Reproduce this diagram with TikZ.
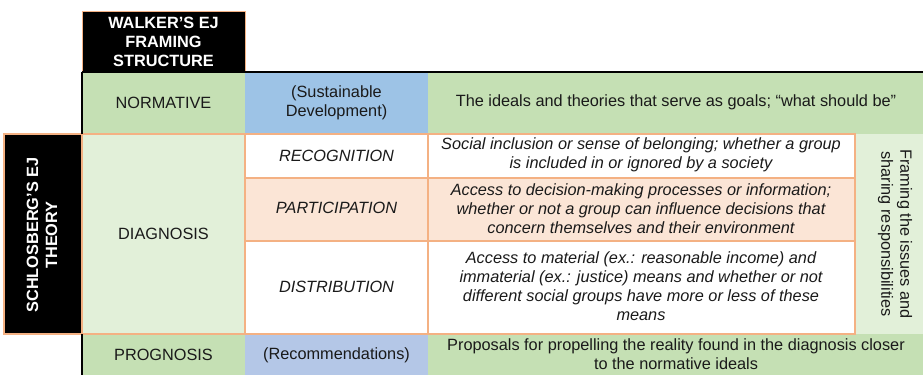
\documentclass[tikz,border=0pt]{standalone}
\usepackage{fontspec}
\setmainfont{Liberation Sans}
\definecolor{gmid}{HTML}{C5E0B4}
\definecolor{glight}{HTML}{E2F0D9}
\definecolor{bsus}{HTML}{9DC3E6}
\definecolor{brec}{HTML}{B4C7E7}
\definecolor{peach}{HTML}{FBE5D6}
\definecolor{orng}{HTML}{F4B183}
\definecolor{txt}{HTML}{1A1A1A}
\begin{document}
\begin{tikzpicture}[x=1pt,y=-1pt,
  cell/.style={anchor=north west, inner sep=0pt, outer sep=0pt, align=center,
    font=\fontsize{16.3}{19}\selectfont, text=txt},
  ocell/.style={cell, draw=orng, line width=1.5pt},
  desc/.style={align=center, inner sep=0pt, font=\fontsize{16.3}{19}\selectfont\itshape, text=txt},
  lbl/.style={align=center, inner sep=0pt, font=\fontsize{16.3}{19}\selectfont, text=txt},
  head/.style={align=center, inner sep=0pt, font=\fontsize{16.3}{19}\selectfont\bfseries, text=white}
]
\useasboundingbox (0,0) rectangle (923,375);

% Walker header
\node[cell, fill=black, draw=orng, line width=1pt, minimum width=163pt, minimum height=61pt] (walker) at (82,11) {};
\node[head] (walkert) at (163.5,42) {WALKER’S EJ\\FRAMING\\STRUCTURE};

% Normative row
\node[cell, fill=gmid, minimum width=163pt, minimum height=62pt] (norm) at (82,72) {};
\node[cell, fill=bsus, minimum width=183pt, minimum height=62pt] (sus) at (245,72) {};
\node[cell, fill=gmid, minimum width=495pt, minimum height=62pt] (normd) at (428,72) {};
\node[lbl] (normt) at (163.5,103) {NORMATIVE};
\node[lbl] (sust) at (336.5,103) {(Sustainable\\Development)};
\node[lbl] (normdt) at (676,102) {The ideals and theories that serve as goals; “what should be”};

% Prognosis row
\node[cell, fill=gmid, minimum width=163pt, minimum height=41pt] (prog) at (82,334) {};
\node[cell, fill=brec, minimum width=183pt, minimum height=41pt] (recm) at (245,334) {};
\node[cell, fill=gmid, minimum width=495pt, minimum height=41pt] (progd) at (428,334) {};
\node[lbl] (progt) at (163.5,355) {PROGNOSIS};
\node[lbl] (recmt) at (336.5,355) {(Recommendations)};
\node[lbl] (progdt) at (676,354) {Proposals for propelling the reality found in the diagnosis closer\\to the normative ideals};

% Right framing column
\node[cell, fill=glight, minimum width=68pt, minimum height=200pt] (frame) at (855,134) {};
\node[lbl, rotate=-90] (framet) at (895,234) {Framing the issues and\\sharing responsibilities};

% Schlosberg
\node[ocell, fill=black, line width=1.2pt, minimum width=78pt, minimum height=200pt] (schl) at (4,134) {};
\node[head, rotate=90] (schlt) at (42,235) {SCHLOSBERG’S EJ\\THEORY};

% Diagnosis
\node[ocell, fill=glight, minimum width=163pt, minimum height=200pt] (diag) at (82,134) {};
\node[lbl] (diagt) at (163.5,234) {DIAGNOSIS};

% Sub rows
\node[ocell, fill=white, minimum width=183pt, minimum height=44pt] (recog) at (245,134) {};
\node[ocell, fill=white, minimum width=427pt, minimum height=44pt] (recogd) at (428,134) {};
\node[ocell, fill=peach, minimum width=183pt, minimum height=63pt] (part) at (245,178) {};
\node[ocell, fill=peach, minimum width=427pt, minimum height=63pt] (partd) at (428,178) {};
\node[ocell, fill=white, minimum width=183pt, minimum height=93pt] (dist) at (245,241) {};
\node[ocell, fill=white, minimum width=427pt, minimum height=93pt] (distd) at (428,241) {};

\node[desc] (recogt) at (336.5,156) {RECOGNITION};
\node[desc] (partt) at (336.5,208) {PARTICIPATION};
\node[desc] (distt) at (336.5,287) {DISTRIBUTION};
\node[desc] (recogdt) at (641,155) {Social inclusion or sense of belonging; whether a group\\is included in or ignored by a society};
\node[desc] (partdt) at (641,208.5) {Access to decision-making processes or information;\\whether or not a group can influence decisions that\\concern themselves and their environment};
\node[desc] (distdt) at (641,286.5) {Access to material (ex.: reasonable income) and\\immaterial (ex.: justice) means and whether or not\\different social groups have more or less of these\\means};

% Black rules
\draw[black, line width=1.6pt] (walker.south west) -- (923,72);
\draw[black, line width=2.6pt] (norm.north west) -- (norm.south west);
\draw[black, line width=2.6pt] (prog.north west) -- (prog.south west);
\end{tikzpicture}
\end{document}
